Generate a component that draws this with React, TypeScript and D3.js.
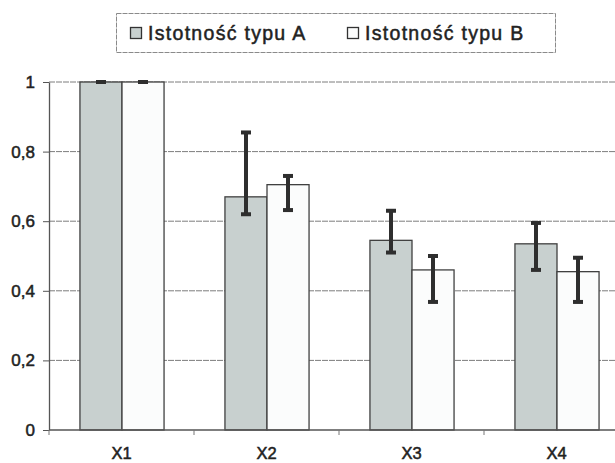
import React, { useRef, useEffect } from 'react';
import * as d3 from 'd3';

const categories = ['X1', 'X2', 'X3', 'X4'];
const seriesNames = ['Istotność typu A', 'Istotność typu B'];
const valuesA = [1, 0.67, 0.545, 0.535];
const valuesB = [1, 0.705, 0.46, 0.455];
const errLowA = [1, 0.62, 0.51, 0.46];
const errHighA = [1, 0.855, 0.63, 0.595];
const errLowB = [1, 0.632, 0.368, 0.368];
const errHighB = [1, 0.73, 0.5, 0.495];
const yTicks = [0, 0.2, 0.4, 0.6, 0.8, 1];

export default function App() {
  const ref = useRef<SVGSVGElement>(null);
  const width = 615;
  const height = 463;

  useEffect(() => {
    const svg = d3.select(ref.current);
    svg.selectAll('*').remove();

    const font = '"Liberation Sans", Arial, sans-serif';
    const colors = ['#c8d0cf', '#fbfcfc'];

    //----- scales -----//
    const x0 = d3.scaleBand().domain(categories).range([49, 629]).paddingInner(0.42).paddingOuter(0.21);
    const x1 = d3.scaleBand().domain(['A', 'B']).range([0, x0.bandwidth()]);
    const y = d3.scaleLinear().domain([0, 1]).range([430, 82]);

    //----- gridlines -----//
    svg.append('g')
      .selectAll('line')
      .data(yTicks.filter(d => d > 0))
      .join('line')
      .attr('x1', 49).attr('x2', width)
      .attr('y1', d => y(d)).attr('y2', d => y(d))
      .attr('stroke', '#7d7d7d')
      .attr('stroke-width', 1)
      .attr('stroke-dasharray', '6,1');

    //----- bars -----//
    const rows = categories.map((c, i) => ({
      c,
      bars: [
        { k: 'A', v: valuesA[i], lo: errLowA[i], hi: errHighA[i] },
        { k: 'B', v: valuesB[i], lo: errLowB[i], hi: errHighB[i] },
      ],
    }));

    const groups = svg.append('g')
      .selectAll('g')
      .data(rows)
      .join('g')
      .attr('transform', d => `translate(${x0(d.c)},0)`);

    groups.selectAll('rect')
      .data(d => d.bars)
      .join('rect')
      .attr('x', d => x1(d.k)! + 0.5)
      .attr('y', d => y(d.v))
      .attr('width', x1.bandwidth())
      .attr('height', d => y(0) - y(d.v))
      .attr('fill', (d, i) => colors[i])
      .attr('stroke', '#404040')
      .attr('stroke-width', 1.3);

    //----- error bars -----//
    const err = groups.selectAll('g.err')
      .data(d => d.bars)
      .join('g')
      .attr('class', 'err')
      .attr('transform', d => `translate(${x1(d.k)! + x1.bandwidth() / 2 + 0.5},0)`);

    err.append('line')
      .attr('y1', d => y(d.lo)).attr('y2', d => y(d.hi))
      .attr('stroke', '#2e2e2e').attr('stroke-width', 4);
    err.selectAll('line.cap')
      .data(d => [d.lo, d.hi])
      .join('line')
      .attr('class', 'cap')
      .attr('x1', -5).attr('x2', 5)
      .attr('y1', d => y(d)).attr('y2', d => y(d))
      .attr('stroke', '#2e2e2e').attr('stroke-width', 4);

    //----- y axis -----//
    const yAxis = d3.axisLeft(y)
      .tickValues(yTicks)
      .tickSize(6)
      .tickSizeOuter(0)
      .tickPadding(8)
      .tickFormat(d => String(d).replace('.', ','));
    const gy = svg.append('g').attr('transform', 'translate(49,0)').call(yAxis);
    gy.select('.domain').attr('stroke', '#555').attr('stroke-width', 1.3);
    gy.selectAll('.tick line').attr('stroke', '#555');
    gy.selectAll('.tick text')
      .attr('fill', '#222')
      .attr('stroke', '#222')
      .attr('stroke-width', 0.5)
      .style('font-family', font)
      .style('font-size', '17px');

    //----- x axis -----//
    const gx = svg.append('g');
    gx.append('line')
      .attr('x1', 49).attr('x2', width)
      .attr('y1', y(0)).attr('y2', y(0))
      .attr('stroke', '#555').attr('stroke-width', 1.3);
    gx.selectAll('line.tk')
      .data(categories)
      .join('line')
      .attr('class', 'tk')
      .attr('x1', d => x0(d)! - x0.step() * 0.21)
      .attr('x2', d => x0(d)! - x0.step() * 0.21)
      .attr('y1', y(0)).attr('y2', y(0) + 5)
      .attr('stroke', '#777');
    gx.selectAll('text')
      .data(categories)
      .join('text')
      .attr('x', d => x0(d)! + x0.bandwidth() / 2)
      .attr('y', 459)
      .attr('text-anchor', 'middle')
      .attr('fill', '#222')
      .attr('stroke', '#222')
      .attr('stroke-width', 0.5)
      .style('font-family', font)
      .style('font-size', '16.5px')
      .text(d => d);

    //----- legend -----//
    const lg = svg.append('g');
    lg.append('rect')
      .attr('x', 116.5).attr('y', 13.5)
      .attr('width', 439).attr('height', 39)
      .attr('fill', 'white')
      .attr('stroke', '#8a8a8a')
      .attr('stroke-dasharray', '5,1');
    const item = lg.selectAll('g')
      .data(seriesNames)
      .join('g')
      .attr('transform', (d, i) => `translate(${i === 0 ? 130 : 347},0)`);
    item.append('rect')
      .attr('x', 0.5).attr('y', 27.5)
      .attr('width', 11).attr('height', 11)
      .attr('fill', (d, i) => colors[i])
      .attr('stroke', '#333')
      .attr('stroke-width', 1.3);
    item.append('text')
      .attr('x', 18)
      .attr('y', 40)
      .attr('fill', '#222')
      .attr('stroke', '#222')
      .attr('stroke-width', 0.5)
      .style('font-family', font)
      .style('font-size', '19.5px')
      .style('letter-spacing', '1.3px')
      .text(d => d);
  }, []);

  return (
    <svg
      ref={ref}
      width={width}
      height={height}
      style={{ position: 'absolute', left: 0, top: 0, background: 'white' }}
    />
  );
}
